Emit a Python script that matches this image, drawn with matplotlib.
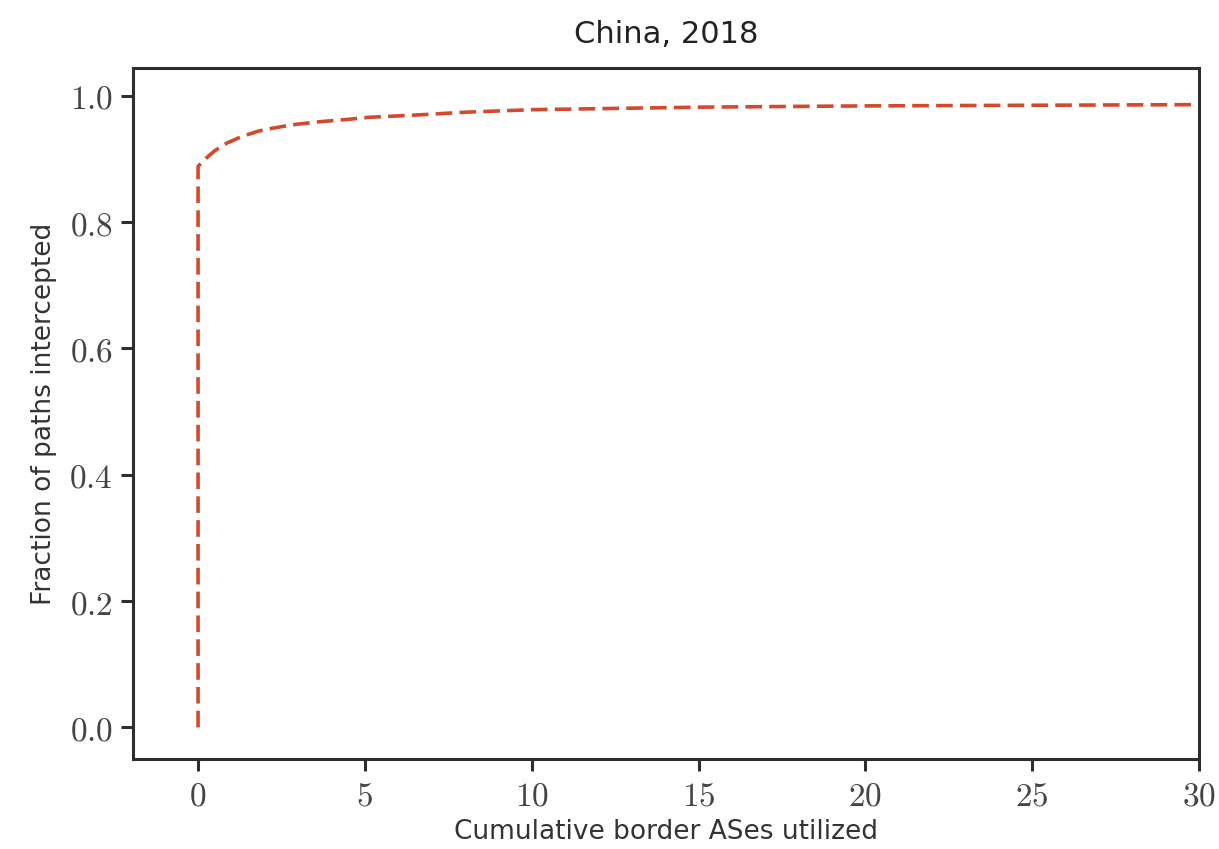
import matplotlib
matplotlib.use("Agg")
import matplotlib.pyplot as plt
from matplotlib.ticker import FuncFormatter

# CDF of paths intercepted vs. number of border ASes
border_ases = [0.0, 0.0, 0.0, 0.1, 0.26, 0.5, 0.86, 1.2, 1.46, 1.8, 2.16, 2.6, 2.96,
               3.66, 4.35, 5.15, 6.7, 8.0, 10.0, 12.5, 15.0, 20.0, 25.0, 30.0]
frac_paths = [0.0, 0.5, 0.888, 0.894, 0.902, 0.913, 0.925, 0.933, 0.938, 0.944, 0.948,
              0.952, 0.955, 0.959, 0.962, 0.966, 0.970, 0.974, 0.978, 0.980, 0.982,
              0.984, 0.985, 0.986]

plt.rcParams['mathtext.fontset'] = 'cm'
spine_col = '#2e2e2e'

fig = plt.figure(figsize=(12.19, 8.49), dpi=100)
ax = fig.add_axes([133 / 1219, 1 - 759 / 849, (1199 - 133) / 1219, (759 - 68) / 849])

ax.plot(border_ases, frac_paths, color='#d4482b', lw=2.6, dashes=(4.6, 2.0))

ax.set_xlim(-1.95, 30)
ax.set_ylim(-0.05, 1.044)
ax.set_xticks([0, 5, 10, 15, 20, 25, 30])
ax.set_yticks([0.0, 0.2, 0.4, 0.6, 0.8, 1.0])
ax.xaxis.set_major_formatter(FuncFormatter(lambda v, p: r'$%d$' % v))
ax.yaxis.set_major_formatter(FuncFormatter(lambda v, p: r'$%.1f$' % v))

for s in ax.spines.values():
    s.set_color(spine_col)
    s.set_linewidth(2.2)
ax.tick_params(length=8.5, width=2.2, color=spine_col, labelsize=24,
               labelcolor='#444444', pad=6)

ax.set_title('China, 2018', fontsize=22, color='#222222', pad=18)
ax.set_xlabel('Cumulative border ASes utilized', fontsize=19, color='#333333', labelpad=5)
ax.set_ylabel('Fraction of paths intercepted', fontsize=19, color='#333333', labelpad=9)

fig.savefig('out.png', dpi=100)
